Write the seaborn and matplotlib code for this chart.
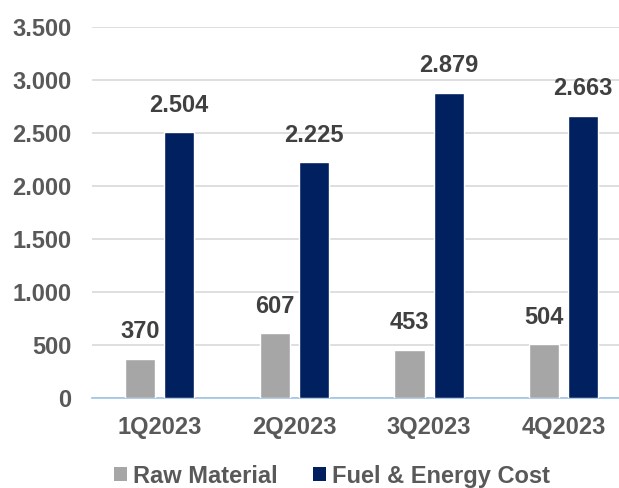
import pandas as pd
import matplotlib.pyplot as plt
import seaborn as sns
from matplotlib.patches import Patch

# data
quarters = ['1Q2023', '2Q2023', '3Q2023', '4Q2023']
raw_material = [370, 607, 453, 504]
fuel_energy = [2504, 2225, 2879, 2663]
series = ['Raw Material', 'Fuel & Energy Cost']
colors = ['#A6A6A6', '#002060']

df = pd.DataFrame({
    'Quarter': quarters * 2,
    'Series': [series[0]] * 4 + [series[1]] * 4,
    'Value': raw_material + fuel_energy,
})

sns.set_theme(style="white")
plt.rcParams['font.family'] = ['Liberation Sans', 'DejaVu Sans']
plt.rcParams['font.weight'] = 'bold'

fig = plt.figure(figsize=(6.19, 4.88), dpi=100)
ax = fig.add_axes([0.149, 0.185, 0.851, 0.76])

sns.barplot(data=df, x='Quarter', y='Value', hue='Series', order=quarters,
            hue_order=series, palette=colors, width=0.58, gap=0.23,
            saturation=1, legend=False, ax=ax, zorder=3)

def fmt(v):
    return f"{v:,.0f}".replace(',', '.')

for cont in ax.containers:
    ax.bar_label(cont, labels=[fmt(v) for v in cont.datavalues], padding=11,
                 fontsize=17, fontweight='bold', color='#404040')

ax.set_ylim(0, 3500)
ax.set_xlim(-0.5, 3.41)
ax.set_yticks(range(0, 3501, 500))
ax.set_yticklabels([fmt(v) for v in range(0, 3501, 500)])
ax.yaxis.grid(True, color='#D9D9D9', linewidth=1.2, zorder=0)
ax.set_axisbelow(True)
ax.tick_params(axis='y', length=0, pad=15, labelsize=17, labelcolor='#595959')
ax.tick_params(axis='x', length=0, pad=13, labelsize=17, labelcolor='#595959')
for lab in ax.get_xticklabels() + ax.get_yticklabels():
    lab.set_fontweight('bold')
ax.set_xlabel('')
ax.set_ylabel('')
for s in ['top', 'right', 'left']:
    ax.spines[s].set_visible(False)
ax.spines['bottom'].set_color('#9DC3E6')
ax.spines['bottom'].set_linewidth(1.2)

handles = [Patch(facecolor=c, edgecolor='none') for c in colors]
leg = fig.legend(handles, series, loc='lower center', bbox_to_anchor=(0.536, -0.043),
                 ncol=2, frameon=False, handlelength=0.55, handleheight=0.55,
                 handletextpad=0.25, columnspacing=1.5,
                 prop={'size': 17, 'weight': 'bold'})
for t in leg.get_texts():
    t.set_color('#595959')

fig.savefig('out.png', dpi=100)
